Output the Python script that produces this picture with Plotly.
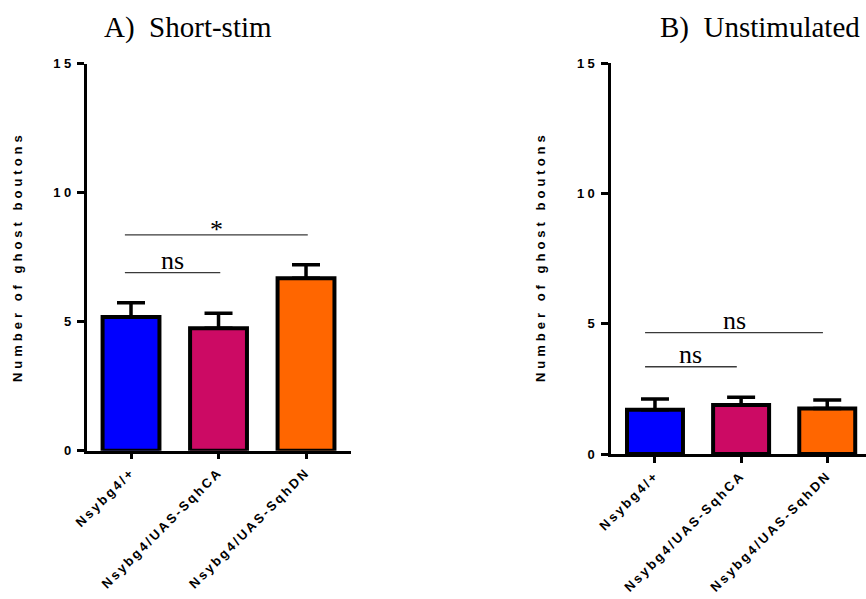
import plotly.graph_objects as go

# ---- data ----
categories = ["Nsybg4/+", "Nsybg4/UAS-SqhCA", "Nsybg4/UAS-SqhDN"]
bar_colors = ["#0000FF", "#CC0A64", "#FF6600"]

a_mean = [5.18, 4.74, 6.68]
a_err = [0.55, 0.58, 0.52]
b_mean = [1.70, 1.88, 1.75]
b_err = [0.41, 0.30, 0.32]

y_ticks = [0, 5, 10, 15]

# significance brackets: (from index, to index, label, height)
a_sig = [(0, 1, "ns", 6.9), (0, 2, "*", 8.36)]
b_sig = [(0, 1, "ns", 3.35), (0, 2, "ns", 4.66)]

titles = ["A)\u00a0 Short-stim", "B)\u00a0 Unstimulated"]
y_title = "Number of ghost boutons"

W, H = 866, 599
fig = go.Figure()

def add_bars(mean, err, xa, ya):
    fig.add_trace(go.Bar(
        x=categories, y=mean, xaxis=xa, yaxis=ya, width=0.65,
        marker=dict(color=bar_colors, line=dict(color="black", width=4)),
        error_y=dict(type="data", symmetric=False, array=err,
                     arrayminus=[0] * len(err), color="black",
                     thickness=3.5, width=14),
        showlegend=False, hoverinfo="skip",
    ))

add_bars(a_mean, a_err, "x", "y")
add_bars(b_mean, b_err, "x2", "y2")

tickfont = dict(family="Liberation Sans", size=13, color="black", weight=700)
common_x = dict(type="category", showline=True, linecolor="black", linewidth=2.5,
                ticks="outside", ticklen=6, tickwidth=2.5, tickcolor="black",
                tickangle=-45, tickfont=tickfont, showgrid=False, zeroline=False,
                automargin=False, fixedrange=True)
common_y = dict(range=[0, 15], tickvals=y_ticks, showline=True, linecolor="black",
                linewidth=2.5, ticks="outside", ticklen=7, tickwidth=2.5,
                tickcolor="black", tickfont=tickfont, showgrid=False,
                zeroline=False, automargin=False, fixedrange=True)

fig.update_layout(
    width=W, height=H, margin=dict(l=0, r=0, t=0, b=0),
    plot_bgcolor="white", paper_bgcolor="white", bargap=0.35,
    xaxis=dict(common_x, domain=[87 / W, 351 / W], range=[-0.503, 2.514], anchor="y"),
    yaxis=dict(common_y, domain=[(H - 450.7) / H, (H - 63.5) / H], anchor="x"),
    xaxis2=dict(common_x, domain=[610.7 / W, 1.0], range=[-0.514, 2.45], anchor="y2"),
    yaxis2=dict(common_y, domain=[(H - 454) / H, (H - 63.3) / H], anchor="x2"),
)

annotations = []
# y titles first (letter-spaced later)
for xpx in (17, 540):
    annotations.append(dict(
        text=y_title, xref="paper", yref="paper", x=xpx / W,
        y=0.5 * ((H - 450.7) / H + (H - 63.5) / H), textangle=-90,
        showarrow=False, xanchor="center", yanchor="middle",
        font=dict(family="Liberation Sans", size=13, color="black", weight=700)))

for t, xpx in zip(titles, (188, 760)):
    annotations.append(dict(
        text=t, xref="paper", yref="paper", x=xpx / W, y=(H - 27) / H,
        showarrow=False, xanchor="center", yanchor="middle",
        font=dict(family="Liberation Serif", size=29, color="black")))

shapes = []
for sig, xr, yr, off0, off1 in ((a_sig, "x", "y", -0.07, 0.02),
                                (b_sig, "x2", "y2", -0.115, -0.05)):
    for i, j, lab, h in sig:
        x0, x1 = i + off0, j + off1
        shapes.append(dict(type="line", xref=xr, yref=yr, x0=x0, x1=x1, y0=h, y1=h,
                           line=dict(color="#3a3a3a", width=1.3)))
        annotations.append(dict(
            text=lab, xref=xr, yref=yr, x=(x0 + x1) / 2, y=h, showarrow=False,
            xanchor="center", yanchor="bottom", yshift=(-11 if lab == "*" else -4),
            font=dict(family="Liberation Serif", size=26, color="black")))

fig.update_layout(annotations=annotations, shapes=shapes)

post_js = """
document.body.style.margin = '0';
document.body.style.overflow = 'hidden';
var gd = document.getElementById('{plot_id}');
function sp(){
  gd.querySelectorAll('.xtick text, .x2tick text').forEach(function(t){t.style.letterSpacing='2.4px';});
  gd.querySelectorAll('.ytick text, .y2tick text').forEach(function(t){t.style.letterSpacing='3.5px';});
  gd.querySelectorAll('.annotation[data-index="0"] text, .annotation[data-index="1"] text').forEach(function(t){t.style.letterSpacing='4px';});
}
sp();
gd.on('plotly_afterplot', sp);
"""

fig.write_html("out.html", post_script=post_js, config={"displayModeBar": False})
